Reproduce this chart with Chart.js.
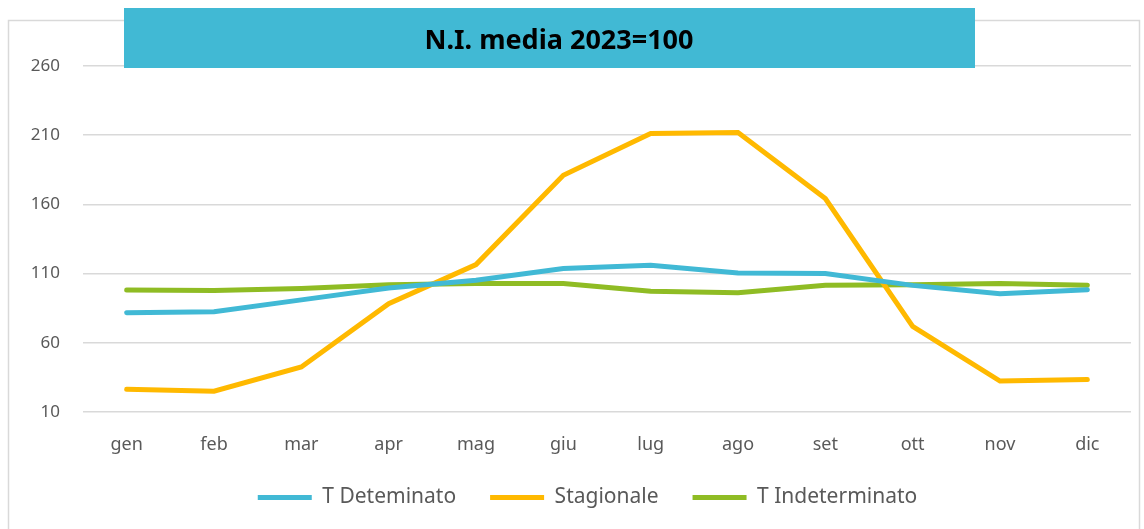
<!DOCTYPE html>
<html>
<head>
<meta charset="utf-8">
<script src="https://cdn.jsdelivr.net/npm/chart.js@4"></script>
<style>
  html, body { margin: 0; padding: 0; background: #fff; }
  #wrap { width: 1144px; height: 529px; }
</style>
</head>
<body>
<div id="wrap"><canvas id="grafico"></canvas></div>
<script>
// Dati
const mesi = ['gen', 'feb', 'mar', 'apr', 'mag', 'giu', 'lug', 'ago', 'set', 'ott', 'nov', 'dic'];
const tDeterminato = [81.8, 82.5, 91.0, 99.6, 105.2, 113.6, 116.0, 110.4, 110.0, 101.5, 95.5, 98.4];
const stagionale = [26.4, 25.0, 42.5, 88.3, 116.5, 181.0, 211.2, 211.9, 164.2, 71.9, 32.4, 33.4];
const tIndeterminato = [98.2, 97.7, 99.2, 102.0, 102.8, 102.8, 97.2, 96.2, 101.5, 102.0, 102.8, 101.5];
const titolo = 'N.I. media 2023=100';

const BLU = '#41B9D5';
const GIALLO = '#FFB900';
const VERDE = '#8FBC24';

// Cornice, riquadro del titolo e posizione della legenda
const sfondoPlugin = {
  id: 'sfondo',
  afterInit(chart) {
    const legenda = chart.legend;
    const fitOrig = legenda.fit;
    legenda.fit = function () {
      fitOrig.call(this);
      this.height = 67;
    };
  },
  afterLayout(chart) {
    const l = chart.legend;
    l.left += 22;
    l.right += 22;
    l.top -= 9;
    l.bottom -= 9;
  },
  beforeDraw(chart) {
    const ctx = chart.ctx;
    ctx.save();
    ctx.fillStyle = '#fff';
    ctx.fillRect(0, 0, chart.width, chart.height);
    ctx.strokeStyle = '#D9D9D9';
    ctx.lineWidth = 1.5;
    ctx.strokeRect(8.5, 20.5, 1131, 520);
    ctx.restore();
  },
  afterDraw(chart) {
    const ctx = chart.ctx;
    ctx.save();
    ctx.fillStyle = '#41B9D4';
    ctx.fillRect(124, 8, 851, 60);
    ctx.fillStyle = '#000';
    ctx.font = 'bold 27px "Noto Sans"';
    ctx.textAlign = 'center';
    ctx.textBaseline = 'alphabetic';
    ctx.fillText(titolo, 559, 49);
    ctx.restore();
  }
};

function serie(label, dati, colore) {
  return {
    label: label,
    data: dati,
    borderColor: colore,
    backgroundColor: colore,
    borderWidth: 5,
    borderCapStyle: 'round',
    pointRadius: 0,
    tension: 0
  };
}

const ctx = document.getElementById('grafico').getContext('2d');
new Chart(ctx, {
  type: 'line',
  data: {
    labels: mesi,
    datasets: [
      serie('T Deteminato', tDeterminato, BLU),
      serie('Stagionale', stagionale, GIALLO),
      serie('T Indeterminato', tIndeterminato, VERDE)
    ]
  },
  options: {
    responsive: true,
    maintainAspectRatio: false,
    animation: false,
    layout: { padding: { top: 66, right: 13, left: 0, bottom: 0 } },
    scales: {
      x: {
        offset: true,
        grid: { display: false },
        border: { display: false },
        afterFit(scale) { scale.height = 50; },
        ticks: {
          color: '#595959',
          padding: 14,
          font: { family: '"Noto Sans"', size: 18 }
        }
      },
      y: {
        min: 10,
        max: 260,
        afterFit(scale) { scale.width = 83; },
        grid: { color: '#D9D9D9', lineWidth: 1.5, drawTicks: false },
        border: { display: false },
        ticks: {
          stepSize: 50,
          color: '#595959',
          padding: 23,
          font: { family: '"Noto Sans"', size: 17 }
        }
      }
    },
    plugins: {
      title: { display: false },
      tooltip: { enabled: false },
      legend: {
        position: 'bottom',
        labels: {
          boxWidth: 54,
          boxHeight: 5,
          padding: 34,
          color: '#595959',
          font: { family: '"Noto Sans"', size: 21 },
          generateLabels(chart) {
            return chart.data.datasets.map((ds, i) => ({
              text: ds.label,
              fillStyle: ds.borderColor,
              strokeStyle: ds.borderColor,
              lineWidth: 0,
              fontColor: '#595959',
              datasetIndex: i,
              hidden: false
            }));
          }
        }
      }
    }
  },
  plugins: [sfondoPlugin]
});
</script>
</body>
</html>
